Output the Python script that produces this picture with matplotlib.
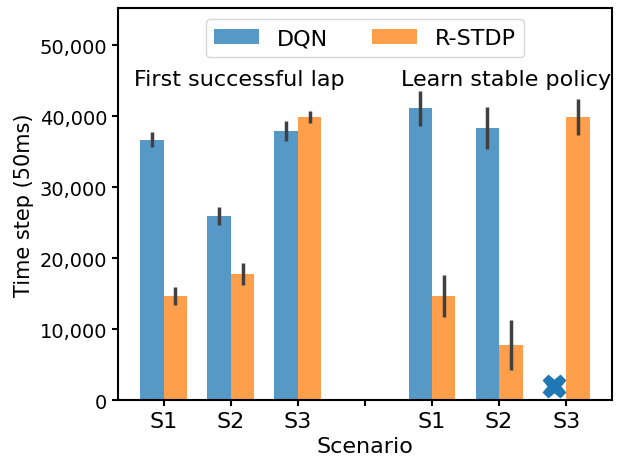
import numpy as np
import matplotlib
matplotlib.use("Agg")
import matplotlib.pyplot as plt

# ─── DATA ──────────────────────────────────────────────────────────────────
tick_labels = ["S1", "S2", "S3", "", "S1", "S2", "S3"]
dqn_mean   = [36700, 25900, 37900, np.nan, 41100, 38300, np.nan]
dqn_err    = [1000, 1250, 1400, np.nan, 2500, 3000, np.nan]
rstdp_mean = [14650, 17750, 39850, np.nan, 14650, 7750, 39850]
rstdp_err  = [1300, 1500, 850, np.nan, 3000, 3500, 2500]
# DQN never learned a stable policy in S3 -> marker instead of a bar
fail_pos = 6
fail_val = 2000

# ─── PLOT ──────────────────────────────────────────────────────────────────
fig, ax = plt.subplots(figsize=(6.33, 4.6), dpi=100)
fig.subplots_adjust(left=0.186, right=0.967, top=0.980, bottom=0.128)

x = np.arange(len(tick_labels))
w = 0.35
ax.bar(x - w / 2, dqn_mean, w, yerr=dqn_err, color='tab:blue', alpha=0.75,
       ecolor='#404040', error_kw=dict(lw=2.5, alpha=1), label='DQN')
ax.bar(x + w / 2, rstdp_mean, w, yerr=rstdp_err, color='tab:orange', alpha=0.75,
       ecolor='#404040', error_kw=dict(lw=2.5, alpha=1), label='R-STDP')
ax.plot(fail_pos - w / 2, fail_val, 'X', color='tab:blue', markersize=16)

ax.set_xticks(x)
ax.set_xticklabels(tick_labels, fontsize=16)
ax.set_xlim(-0.685, 6.685)
ax.set_ylim(0, 55200)
ax.set_yticks([0, 10000, 20000, 30000, 40000, 50000])
ax.yaxis.set_major_formatter(matplotlib.ticker.StrMethodFormatter('{x:,.0f}'))
ax.tick_params(axis='y', labelsize=14)
ax.tick_params(width=1.5, length=4)
for s in ax.spines.values():
    s.set_linewidth(1.5)

ax.text(1.13, 45200, "First successful lap", ha='center', va='center', fontsize=16)
ax.text(5.1, 45200, "Learn stable policy", ha='center', va='center', fontsize=16)

ax.set_xlabel("Scenario", fontsize=16)
ax.set_ylabel("Time step (50ms)", fontsize=15)
ax.legend(loc='upper center', ncol=2, fontsize=16)

fig.savefig("out.png")
